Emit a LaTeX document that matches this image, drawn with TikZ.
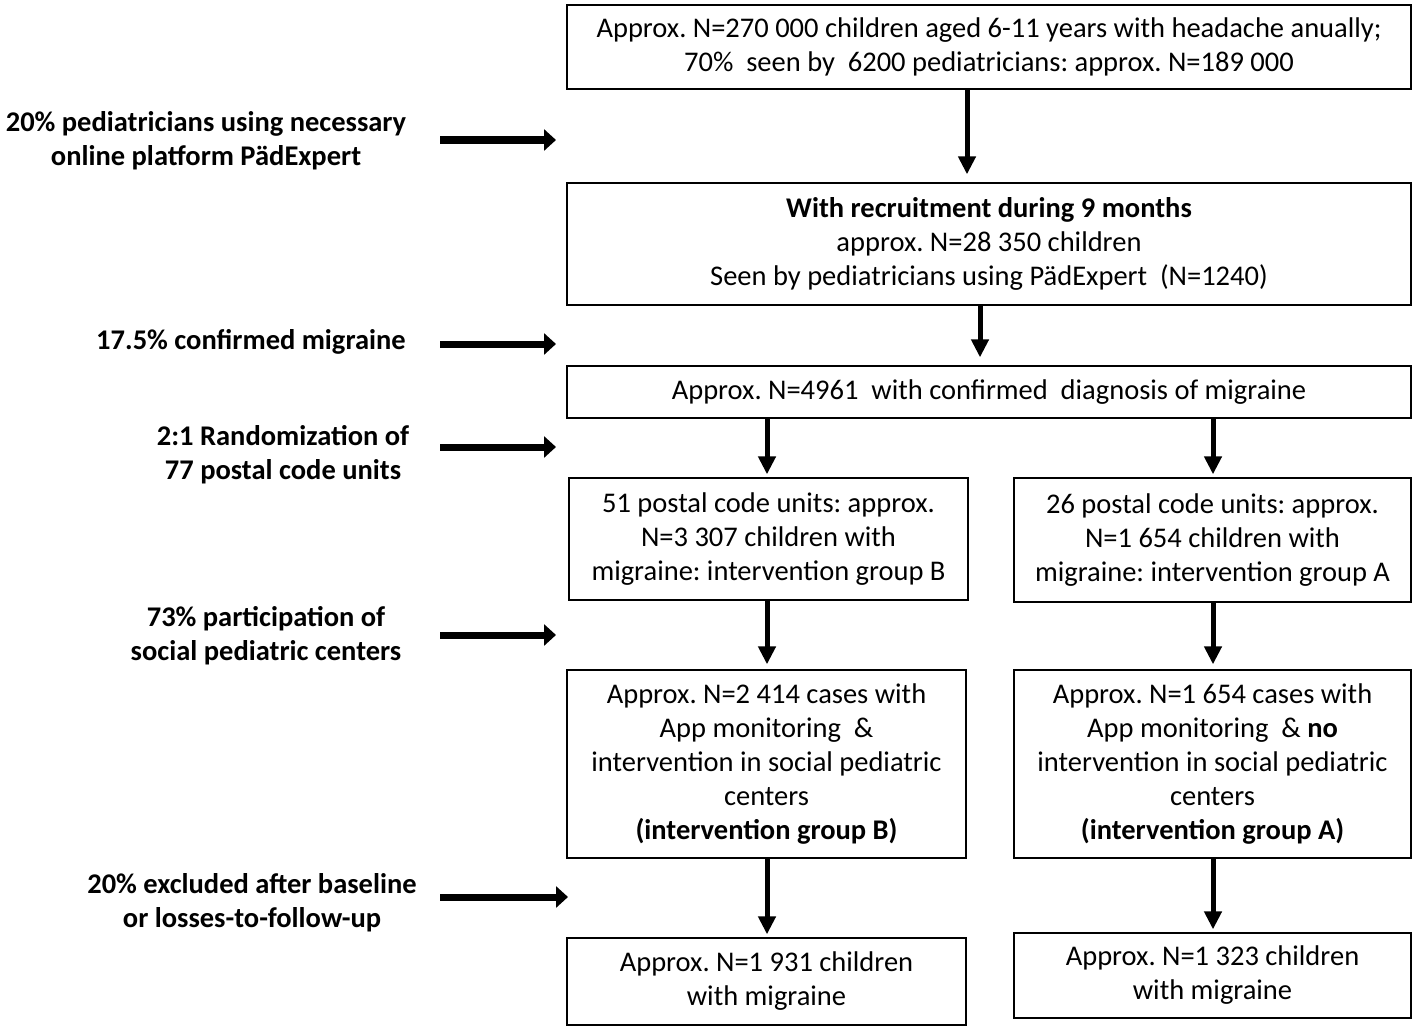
\documentclass[tikz,border=0pt]{standalone}
\usepackage{fontspec}
\setmainfont{Carlito}
\usetikzlibrary{arrows.meta}
\frenchspacing
\begin{document}
\begin{tikzpicture}[x=1pt,y=-1pt,
  box/.style={draw, line width=1.3pt, align=center, inner sep=0pt, font=\fontsize{28.5}{34}\selectfont},
  lbl/.style={align=center, inner sep=0pt, font=\bfseries\fontsize{28.5}{34}\selectfont},
  varrow/.style={line width=5pt, -{Triangle[width=17pt,length=18pt]}},
  harrow/.style={line width=7pt, -{Triangle[width=21pt,length=12pt]}}]
\useasboundingbox (0,0) rectangle (1418,1030);
% boxes
\node[box, minimum width=844pt, minimum height=84pt] (b1) at (989,47)
  {Approx. N=270 000 children aged 6-11 years with headache anually;\\70\%\ \ seen by\ \ 6200 pediatricians: approx. N=189 000};
\node[box, minimum width=844pt, minimum height=122pt] (b2) at (989,244)
  {\textbf{With recruitment during 9 months}\\approx. N=28 350 children\\Seen by pediatricians using PädExpert\ \ (N=1240)};
\node[box, minimum width=844pt, minimum height=52pt] (b3) at (989,392)
  {Approx. N=4961\ \ with confirmed\ \ diagnosis of migraine};
\node[box, minimum width=399pt, minimum height=122pt] (b4l) at (768.5,539)
  {51 postal code units: approx.\\N=3 307 children with\\migraine: intervention group B};
\node[box, minimum width=397pt, minimum height=124pt] (b4r) at (1212.5,540)
  {26 postal code units: approx.\\N=1 654 children with\\migraine: intervention group A};
\node[box, minimum width=399pt, minimum height=188pt] (b5l) at (766.5,764)
  {Approx. N=2 414 cases with\\App monitoring\ \ \&\\intervention in social pediatric\\centers\\\textbf{(intervention group B)}};
\node[box, minimum width=397pt, minimum height=188pt] (b5r) at (1212.5,764)
  {Approx. N=1 654 cases with\\App monitoring\ \ \& \textbf{no}\\intervention in social pediatric\\centers\\\textbf{(intervention group A)}};
\node[box, minimum width=399pt, minimum height=87pt] (b6l) at (766.5,981.5)
  {Approx. N=1 931 children\\with migraine};
\node[box, minimum width=397pt, minimum height=85pt] (b6r) at (1212.5,975.5)
  {Approx. N=1 323 children\\with migraine};
% vertical arrows
\draw[varrow, shorten >=8pt] (b1.south -| 967,0) -- (b2.north -| 967,0);
\draw[varrow, shorten >=8pt] (b2.south -| 980,0) -- (b3.north -| 980,0);
\draw[varrow, shorten >=3pt] (b3.south -| 767,0) -- (b4l.north -| 767,0);
\draw[varrow, shorten >=3pt] (b3.south -| 1213,0) -- (b4r.north -| 1213,0);
\draw[varrow, shorten >=5pt] (b4l.south -| 767,0) -- (b5l.north -| 767,0);
\draw[varrow, shorten >=5pt] (b4r.south -| 1213,0) -- (b5r.north -| 1213,0);
\draw[varrow, shorten >=3pt] (b5l.south -| 767,0) -- (b6l.north -| 767,0);
\draw[varrow, shorten >=3pt] (b5r.south -| 1213,0) -- (b6r.north -| 1213,0);
% left labels
\node[lbl] (l1) at (206,140.5) {20\% pediatricians using necessary\\online platform PädExpert};
\node[lbl] (l2) at (251,342) {17.5\% confirmed migraine};
\node[lbl] (l3) at (283,455) {2:1 Randomization of\\77 postal code units};
\node[lbl] (l4) at (266,636) {73\% participation of\\social pediatric centers};
\node[lbl] (l5) at (252,902.5) {20\% excluded after baseline\\or losses-to-follow-up};
% horizontal arrows
\coordinate (a1s) at (440,140); \coordinate (a1e) at (556,140);
\coordinate (a2s) at (440,344); \coordinate (a2e) at (556,344);
\coordinate (a3s) at (440,447); \coordinate (a3e) at (556,447);
\coordinate (a4s) at (440,635); \coordinate (a4e) at (556,635);
\coordinate (a5s) at (440,897); \coordinate (a5e) at (568,897);
\draw[harrow] (a1s) -- (a1e);
\draw[harrow] (a2s) -- (a2e);
\draw[harrow] (a3s) -- (a3e);
\draw[harrow] (a4s) -- (a4e);
\draw[harrow] (a5s) -- (a5e);
\end{tikzpicture}
\end{document}
